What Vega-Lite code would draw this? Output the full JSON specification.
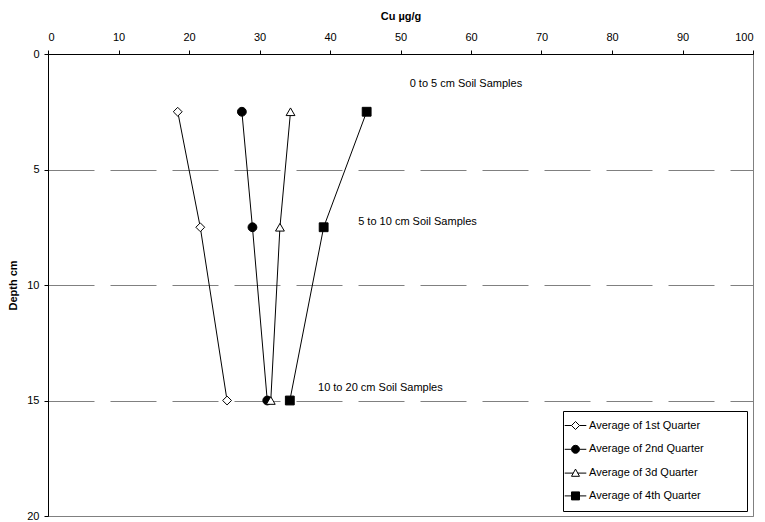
{
  "$schema": "https://vega.github.io/schema/vega-lite/v6.json",
  "width": 705,
  "height": 462,
  "autosize": {"type": "none"},
  "padding": {"left": 48, "top": 54, "right": 12, "bottom": 6},
  "background": "white",
  "config": {
    "font": "Liberation Sans",
    "view": {"stroke": "#808080", "strokeWidth": 1},
    "axis": {
      "labelFont": "Liberation Sans",
      "labelFontSize": 11,
      "labelColor": "#000000",
      "titleFont": "Liberation Sans",
      "titleFontSize": 11,
      "titleFontWeight": "bold",
      "titleColor": "#000000",
      "domainColor": "#000000",
      "tickColor": "#000000",
      "tickSize": 4
    },
    "legend": {
      "titleOrient": "right",
      "titleFontSize": 11,
      "titlePadding": 34,
      "orient": "none",
      "legendX": 515,
      "legendY": 357,
      "strokeColor": "#000000",
      "fillColor": "#ffffff",
      "padding": 9,
      "rowPadding": 10.8,
      "labelFont": "Liberation Sans",
      "labelFontSize": 11,
      "labelColor": "#000000",
      "labelOffset": 8,
      "symbolOffset": -2,
      "symbolSize": 64,
      "symbolStrokeWidth": 1
    }
  },
  "datasets": {
    "series": [
      {"q": "Average of 1st Quarter", "cu": 18.4, "depth": 2.5},
      {"q": "Average of 1st Quarter", "cu": 21.6, "depth": 7.5},
      {"q": "Average of 1st Quarter", "cu": 25.4, "depth": 15},
      {"q": "Average of 2nd Quarter", "cu": 27.5, "depth": 2.5},
      {"q": "Average of 2nd Quarter", "cu": 29.0, "depth": 7.5},
      {"q": "Average of 2nd Quarter", "cu": 31.1, "depth": 15},
      {"q": "Average of 3d Quarter", "cu": 34.4, "depth": 2.5},
      {"q": "Average of 3d Quarter", "cu": 32.9, "depth": 7.5},
      {"q": "Average of 3d Quarter", "cu": 31.6, "depth": 15},
      {"q": "Average of 4th Quarter", "cu": 45.2, "depth": 2.5},
      {"q": "Average of 4th Quarter", "cu": 39.1, "depth": 7.5},
      {"q": "Average of 4th Quarter", "cu": 34.3, "depth": 15}
    ],
    "notes": [
      {"label": "0 to 5 cm Soil Samples", "cu": 51.3, "depth": 1.3},
      {"label": "5 to 10 cm Soil Samples", "cu": 44.0, "depth": 7.27},
      {"label": "10 to 20 cm Soil Samples", "cu": 38.3, "depth": 14.46}
    ]
  },
  "encoding": {
    "x": {
      "field": "cu",
      "type": "quantitative",
      "scale": {"domain": [0, 100], "nice": false},
      "axis": {
        "orient": "top",
        "title": "Cu µg/g",
        "values": [0, 10, 20, 30, 40, 50, 60, 70, 80, 90, 100],
        "grid": false,
        "labelPadding": 8,
        "titlePadding": 10
      }
    },
    "y": {
      "field": "depth",
      "type": "quantitative",
      "scale": {"domain": [0, 20], "reverse": true, "nice": false},
      "axis": {
        "title": "Depth cm",
        "values": [0, 5, 10, 15, 20],
        "grid": true,
        "gridColor": "#808080",
        "gridDash": [46, 16],
        "gridWidth": 1,
        "labelPadding": 5,
        "titlePadding": 8
      }
    }
  },
  "layer": [
    {
      "data": {"name": "series"},
      "mark": {"type": "line", "color": "#000000", "strokeWidth": 1},
      "encoding": {
        "detail": {"field": "q"},
        "order": {"field": "depth", "type": "quantitative"}
      }
    },
    {
      "data": {"name": "series"},
      "mark": {"type": "point", "filled": true, "stroke": "#000000", "strokeWidth": 1, "size": 78, "opacity": 1},
      "encoding": {
        "shape": {
          "field": "q",
          "type": "nominal",
          "scale": {
            "domain": ["Average of 1st Quarter", "Average of 2nd Quarter", "Average of 3d Quarter", "Average of 4th Quarter"],
            "range": ["diamond", "circle", "triangle-up", "square"]
          },
          "legend": null
        },
        "fill": {
          "field": "q",
          "type": "nominal",
          "scale": {
            "domain": ["Average of 1st Quarter", "Average of 2nd Quarter", "Average of 3d Quarter", "Average of 4th Quarter"],
            "range": ["#ffffff", "#000000", "#ffffff", "#000000"]
          },
          "legend": null
        }
      }
    },
    {
      "data": {"name": "series"},
      "transform": [{"filter": "false"}],
      "mark": {"type": "point", "filled": true, "strokeWidth": 1, "opacity": 1},
      "encoding": {
        "shape": {
          "field": "q",
          "type": "nominal",
          "scale": {
            "domain": ["Average of 1st Quarter", "Average of 2nd Quarter", "Average of 3d Quarter", "Average of 4th Quarter"],
            "range": [
              "M-2.7,0H-1M-1,0L0,-1L1,0L0,1ZM1,0H2.7",
              "M-2.7,0H-1M1,0A1,1,0,1,1,-1,0A1,1,0,1,1,1,0ZM1,0H2.7",
              "M-2.7,0H-0.56M-1,0.8L0,-1L1,0.8ZM0.56,0H2.7",
              "M-2.7,0H-1M-1,-1H1V1H-1ZM1,0H2.7"
            ]
          },
          "legend": {"title": " "}
        },
        "fill": {
          "field": "q",
          "type": "nominal",
          "scale": {
            "domain": ["Average of 1st Quarter", "Average of 2nd Quarter", "Average of 3d Quarter", "Average of 4th Quarter"],
            "range": ["#ffffff", "#000000", "#ffffff", "#000000"]
          },
          "legend": {"title": " "}
        },
        "stroke": {
          "field": "q",
          "type": "nominal",
          "scale": {
            "domain": ["Average of 1st Quarter", "Average of 2nd Quarter", "Average of 3d Quarter", "Average of 4th Quarter"],
            "range": ["#000000", "#000000", "#000000", "#000000"]
          },
          "legend": {"title": " "}
        }
      }
    },
    {
      "data": {"name": "notes"},
      "mark": {"type": "text", "align": "left", "baseline": "middle", "font": "Liberation Sans", "fontSize": 11, "color": "#000000"},
      "encoding": {
        "text": {"field": "label"}
      }
    }
  ],
  "resolve": {
    "scale": {"shape": "independent", "fill": "independent", "stroke": "independent"},
    "legend": {"shape": "independent", "fill": "independent", "stroke": "independent"}
  }
}
